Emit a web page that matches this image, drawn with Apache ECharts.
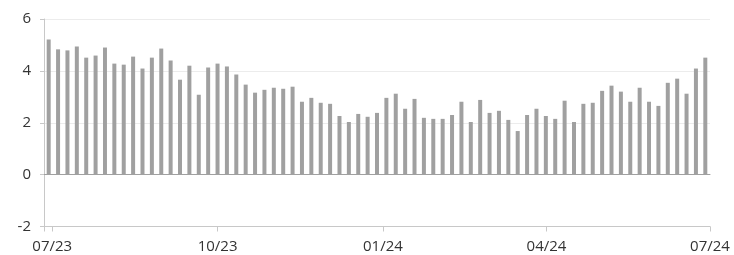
<!DOCTYPE html>
<html>
<head>
<meta charset="utf-8">
<script src="https://cdn.jsdelivr.net/npm/echarts@6/dist/echarts.min.js"></script>
<style>
  html, body { margin: 0; padding: 0; background: #fff; }
  #chart { width: 734px; height: 255px; }
</style>
</head>
<body>
<div id="chart"></div>
<script>
// one bar per period, Jul 2023 -> Jul 2024
const values = [
  5.21, 4.83, 4.79, 4.94, 4.51, 4.59, 4.90, 4.28, 4.24, 4.55,
  4.09, 4.51, 4.86, 4.40, 3.66, 4.20, 3.08, 4.13, 4.28, 4.17,
  3.86, 3.47, 3.16, 3.27, 3.35, 3.31, 3.39, 2.81, 2.96, 2.77,
  2.73, 2.26, 2.03, 2.34, 2.23, 2.38, 2.96, 3.12, 2.54, 2.92,
  2.19, 2.15, 2.15, 2.30, 2.81, 2.03, 2.88, 2.38, 2.46, 2.11,
  1.68, 2.30, 2.54, 2.26, 2.15, 2.85, 2.03, 2.73, 2.77, 3.23,
  3.43, 3.20, 2.81, 3.35, 2.81, 2.65, 3.54, 3.70, 3.12, 4.09,
  4.51
];
const categories = values.map((v, i) => "p" + (i + 1));

// date axis under the bars
const axisStart = "2023-06-26T10:00:00Z";
const axisEnd = "2024-07-01";
const tickDates = ["2023-07-01", "2023-10-01", "2024-01-01", "2024-04-01", "2024-07-01"];
const tickLabels = ["07/23", "10/23", "01/24", "04/24", "07/24"];

const yMin = -2;
const yMax = 6;
const yStep = 2;

// days since first tick date
const dayOf = (d) => (Date.parse(d) - Date.parse(tickDates[0])) / 86400000;
const tickDays = tickDates.map(dayOf);

const chart = echarts.init(document.getElementById("chart"));

const textStyle = {
  fontFamily: "Open Sans",
  fontSize: 15,
  color: "#333",
};

const option = {
  animation: false,
  grid: {
    left: 44,
    right: 24,
    top: 19,
    bottom: 28.5,
  },
  xAxis: [
    {
      type: "category",
      data: categories,
      position: "bottom",
      boundaryGap: true,
      axisLine: {
        show: true,
        onZero: true,
        lineStyle: { color: "#a0a0a0", width: 1 },
      },
      axisTick: { show: false },
      axisLabel: { show: false },
      splitLine: { show: false },
    },
    {
      type: "value",
      position: "bottom",
      min: dayOf(axisStart),
      max: dayOf(axisEnd),
      axisLine: {
        show: true,
        onZero: false,
        lineStyle: { color: "#c8c8c8", width: 1 },
      },
      axisTick: {
        show: true,
        length: 5,
        lineStyle: { color: "#c8c8c8" },
        customValues: [dayOf(axisStart)].concat(tickDays),
      },
      axisLabel: {
        ...textStyle,
        margin: 13,
        customValues: tickDays,
        formatter: (value) => {
          const i = tickDays.indexOf(value);
          return i >= 0 ? tickLabels[i] : "";
        },
      },
      splitLine: { show: false },
    },
  ],
  yAxis: {
    type: "value",
    min: yMin,
    max: yMax,
    interval: yStep,
    axisLine: {
      show: true,
      onZero: false,
      lineStyle: { color: "#c8c8c8", width: 1 },
    },
    axisTick: {
      show: true,
      length: 4,
      lineStyle: { color: "#c8c8c8" },
    },
    axisLabel: {
      ...textStyle,
      margin: 13,
    },
    splitLine: {
      show: true,
      lineStyle: { color: "#ececec", width: 1 },
    },
  },
  series: [
    {
      type: "bar",
      xAxisIndex: 0,
      data: values,
      barWidth: 4,
      itemStyle: { color: "#a0a0a0" },
      emphasis: { disabled: true },
    },
  ],
};

chart.setOption(option);
</script>
</body>
</html>
